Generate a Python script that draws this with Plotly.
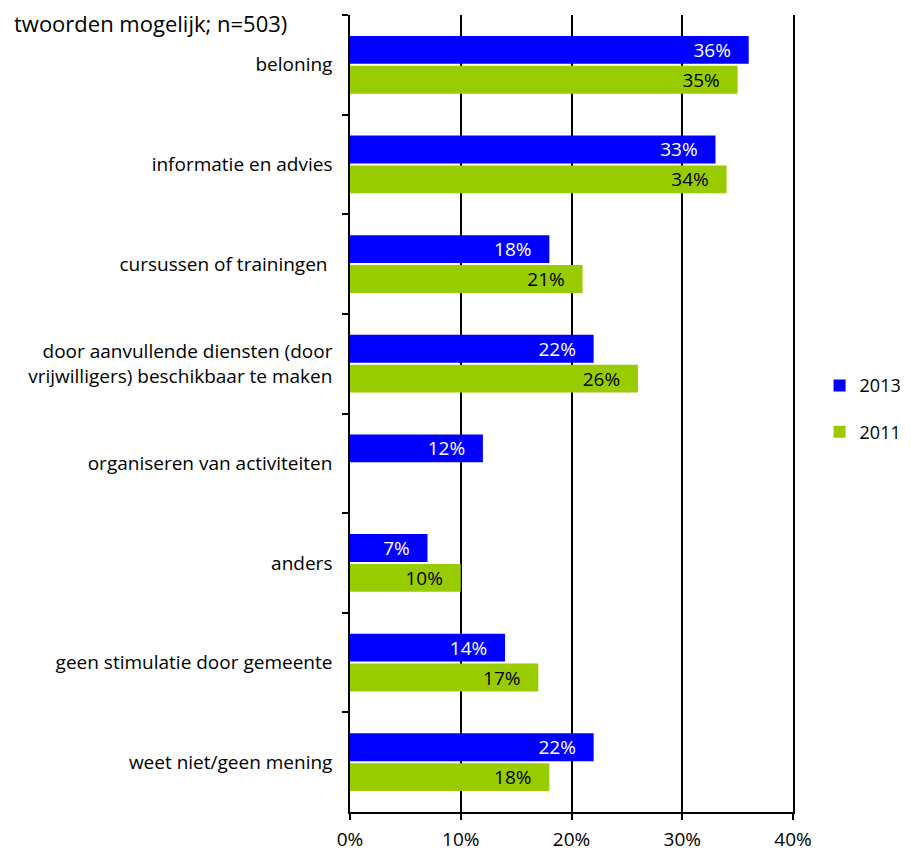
import plotly.graph_objects as go

categories = [
    "beloning",
    "informatie en advies",
    "cursussen of trainingen ",
    "door aanvullende diensten (door<br>vrijwilligers) beschikbaar te maken",
    "organiseren van activiteiten",
    "anders",
    "geen stimulatie door gemeente",
    "weet niet/geen mening",
]
values_2013 = [36, 33, 18, 22, 12, 7, 14, 22]
values_2011 = [35, 34, 21, 26, None, 10, 17, 18]
x_ticks = [0, 10, 20, 30, 40]

FONT = "Open Sans"
PAD = "\u00a0\u00a0\u00a0"

fig = go.Figure()
fig.add_trace(go.Bar(
    y=categories, x=values_2013, orientation="h", name="2013", legendgroup="a",
    marker=dict(color="#0000FF", line=dict(width=0)),
    text=[f"{v}%{PAD}" for v in values_2013], textposition="inside",
    insidetextanchor="end", textfont=dict(color="white", size=19, family=FONT),
    constraintext="none",
))
fig.add_trace(go.Bar(
    y=categories, x=values_2011, orientation="h", name="2011", legendgroup="b",
    marker=dict(color="#99CC00", line=dict(width=0)),
    text=[f"{v}%{PAD}" if v is not None else "" for v in values_2011], textposition="inside",
    insidetextanchor="end", textfont=dict(color="black", size=19, family=FONT),
    constraintext="none",
))

fig.update_layout(
    width=911, height=850,
    margin=dict(l=342, r=126, t=7, b=46, autoexpand=False),
    plot_bgcolor="white", paper_bgcolor="white",
    barmode="group", bargap=0.4, bargroupgap=0.07,
    font=dict(family=FONT, size=19, color="black"),
    legend=dict(x=1.06, y=0.506, yanchor="middle", xanchor="left",
                font=dict(size=18), traceorder="grouped", tracegroupgap=20,
                itemwidth=30),
    uniformtext=dict(mode=False),
)
fig.update_xaxes(
    range=[0, 40], tickvals=x_ticks, ticktext=[f"{v}%" for v in x_ticks],
    showgrid=True, gridcolor="black", gridwidth=1.5,
    showline=True, linecolor="black", linewidth=1.5, zeroline=False,
    ticks="outside", ticklen=6, tickcolor="black", tickwidth=1.5,
    tickfont=dict(size=19), ticklabelstandoff=3, automargin=False,
)
fig.update_yaxes(
    autorange="reversed", showline=True, linecolor="black", linewidth=1.5,
    mirror=True,
    ticks="outside", tickson="boundaries", ticklen=6, tickcolor="black", tickwidth=1.5,
    showgrid=False, tickfont=dict(size=19), ticklabelstandoff=12, automargin=False,
)
fig.add_annotation(
    text="twoorden mogelijk; n=503)", xref="paper", yref="paper",
    x=0, y=1, xshift=-338, yshift=-8, xanchor="left", yanchor="middle",
    showarrow=False, font=dict(size=22),
)

fig.write_html("out.html")
